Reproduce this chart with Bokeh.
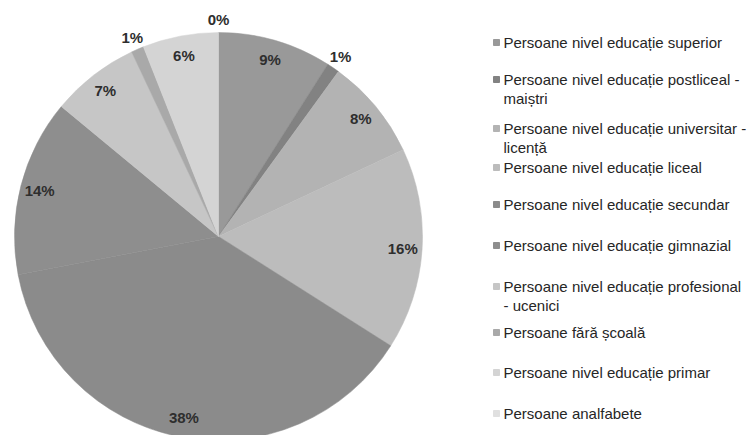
import math
from bokeh.plotting import figure
from bokeh.models import Range1d, ColumnDataSource
from bokeh.core.properties import value
from bokeh.embed import file_html
from bokeh.resources import INLINE

# ---- data ----
categories = [
    "Persoane nivel educație superior",
    "Persoane nivel educație postliceal - maiștri",
    "Persoane nivel educație universitar - licență",
    "Persoane nivel educație liceal",
    "Persoane nivel educație secundar",
    "Persoane nivel educație gimnazial",
    "Persoane nivel educație profesional - ucenici",
    "Persoane fără școală",
    "Persoane nivel educație primar",
    "Persoane analfabete",
]
legend_lines = [
    ["Persoane nivel educație superior"],
    ["Persoane nivel educație postliceal -", "maiștri"],
    ["Persoane nivel educație universitar -", "licență"],
    ["Persoane nivel educație liceal"],
    ["Persoane nivel educație secundar"],
    ["Persoane nivel educație gimnazial"],
    ["Persoane nivel educație profesional", "- ucenici"],
    ["Persoane fără școală"],
    ["Persoane nivel educație primar"],
    ["Persoane analfabete"],
]
percentages = [9, 1, 8, 16, 38, 14, 7, 1, 6, 0]
colors = ["#999999", "#828282", "#b3b3b3", "#bcbcbc", "#8b8b8b",
          "#8e8e8e", "#c6c6c6", "#a9a9a9", "#d4d4d4", "#e0e0e0"]

# ---- layout ----
W, H = 754, 435
CX, CY, R = 218, H - 236, 204

p = figure(width=W, height=H, output_backend="svg", toolbar_location=None,
           x_range=Range1d(0, W), y_range=Range1d(0, H), min_border=0)
p.axis.visible = False
p.grid.visible = False
p.outline_line_color = None
p.background_fill_color = "white"
p.border_fill_color = "white"

total = float(sum(percentages))
starts, ends, mids = [], [], []
cum = 0.0
for v in percentages:
    a0 = math.pi / 2 - 2 * math.pi * cum / total
    cum += v
    a1 = math.pi / 2 - 2 * math.pi * cum / total
    starts.append(a0)
    ends.append(a1)
    mids.append((a0 + a1) / 2)

nz = [i for i, v in enumerate(percentages) if v > 0]
src = ColumnDataSource(dict(start=[starts[i] for i in nz],
                            end=[ends[i] for i in nz],
                            color=[colors[i] for i in nz]))
p.wedge(x=CX, y=CY, radius=R, start_angle="start", end_angle="end",
        direction="clock", fill_color="color", line_color="color",
        line_width=0.5, source=src)

lx, ly, lt = [], [], []
for v, m in zip(percentages, mids):
    rr = R * 1.065 if v < 2 else R * 0.905
    lx.append(CX + rr * math.cos(m))
    ly.append(CY + rr * math.sin(m))
    lt.append(f"{v}%")
p.text(x=lx, y=ly, text=lt, text_font=value("Liberation Sans"),
       text_font_style="bold", text_font_size="15px", text_color="#2e2e2e",
       text_align="center", text_baseline="middle")

# legend
row_y_page = [42, 79, 128, 167, 204, 245, 286, 332, 372, 413]
line_gap = 19
mx = 496
tx = 503
mkx, mky = [], []
tx_l, ty_l, tt_l = [], [], []
for lines, yp in zip(legend_lines, row_y_page):
    yf = H - yp
    mkx.append(mx)
    mky.append(yf)
    for i, ln in enumerate(lines):
        tx_l.append(tx)
        ty_l.append(yf - i * line_gap)
        tt_l.append(ln)
p.scatter(x=mkx, y=mky, marker="square", size=6, fill_color=colors,
          line_color=colors)
p.text(x=tx_l, y=ty_l, text=tt_l, text_font=value("Liberation Sans"),
       text_font_size="15px", text_color="#262626",
       text_align="left", text_baseline="middle")

open("out.html", "w").write(file_html(p, INLINE))
